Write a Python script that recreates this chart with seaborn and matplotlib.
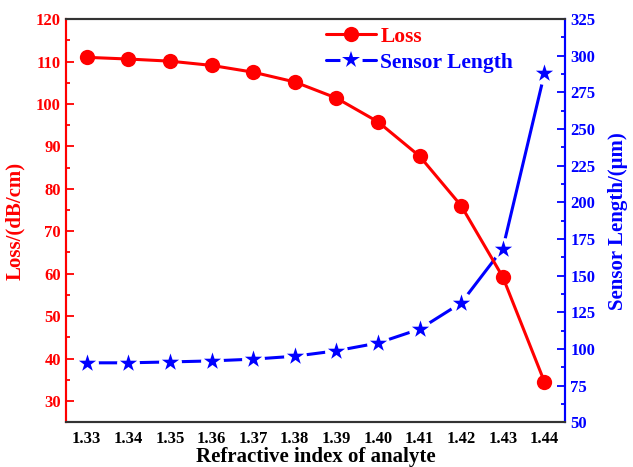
import numpy as np
import pandas as pd
import matplotlib
matplotlib.use("Agg")
import matplotlib.pyplot as plt
from matplotlib.ticker import MultipleLocator, FormatStrFormatter
from matplotlib.lines import Line2D
from matplotlib.legend_handler import HandlerTuple
import seaborn as sns

# Refractive index of the analyte and the two responses
refractive_index = [1.33, 1.34, 1.35, 1.36, 1.37, 1.38, 1.39, 1.40, 1.41, 1.42, 1.43, 1.44]
loss_db_cm = [111.0, 110.6, 110.1, 109.1, 107.5, 105.2, 101.4, 95.8, 87.7, 76.0, 59.2, 34.5]
sensor_length_um = [90.5, 90.5, 91.1, 91.8, 93.0, 95.0, 98.7, 104.0, 113.5, 131.4, 168.5, 288.0]

df = pd.DataFrame({
    "n": refractive_index,
    "loss": loss_db_cm,
    "length": sensor_length_um,
})

sns.set_theme(style="white")
plt.rcParams["font.family"] = ["Liberation Serif", "DejaVu Serif"]
plt.rcParams["font.weight"] = "bold"

RED = "#ff0000"
BLUE = "#0000ff"

fig = plt.figure(figsize=(6.33, 4.67), dpi=100)
ax = fig.add_axes([0.104, 0.096, 0.789, 0.863])
ax2 = ax.twinx()
# keep the red series above the blue one
ax.set_zorder(ax2.get_zorder() + 1)
ax.patch.set_visible(False)

# Loss: solid red line with filled circles
sns.lineplot(data=df, x="n", y="loss", ax=ax, color=RED, marker="o",
             markersize=11, markeredgewidth=0, linewidth=2.2, legend=False)

# Sensor length: blue line broken around each star symbol
sns.lineplot(data=df, x="n", y="length", ax=ax2, color=BLUE,
             linewidth=2.2, legend=False, zorder=2)
sns.scatterplot(data=df, x="n", y="length", ax=ax2, color="white",
                marker="o", s=270, linewidth=0, legend=False, zorder=3)
sns.scatterplot(data=df, x="n", y="length", ax=ax2, color=BLUE,
                marker="*", s=170, linewidth=0, legend=False, zorder=4)

ax.set_xlim(1.325, 1.445)
ax.set_ylim(25, 120)
ax2.set_ylim(50, 325)

ax.xaxis.set_major_locator(MultipleLocator(0.01))
ax.xaxis.set_minor_locator(MultipleLocator(0.005))
ax.xaxis.set_major_formatter(FormatStrFormatter("%.2f"))
ax.yaxis.set_major_locator(MultipleLocator(10))
ax.yaxis.set_minor_locator(MultipleLocator(5))
ax2.yaxis.set_major_locator(MultipleLocator(25))
ax2.yaxis.set_minor_locator(MultipleLocator(12.5))

# Spines
for a in (ax, ax2):
    for s in a.spines.values():
        s.set_linewidth(1.5)
    a.spines["top"].set_color("#333333")
    a.spines["bottom"].set_color("#333333")
    a.spines["left"].set_color(RED)
    a.spines["right"].set_color(BLUE)

ax.tick_params(axis="x", which="both", direction="in", top=False,
               colors="#333333", labelcolor="black", labelsize=12, width=1.3)
ax.tick_params(axis="x", which="major", length=6, pad=6)
ax.tick_params(axis="x", which="minor", length=3)
ax.tick_params(axis="y", which="both", direction="in", colors=RED,
               labelcolor=RED, labelsize=12, width=1.3)
ax.tick_params(axis="y", which="major", length=6)
ax.tick_params(axis="y", which="minor", length=3)
ax2.tick_params(axis="y", which="both", direction="in", colors=BLUE,
                labelcolor=BLUE, labelsize=12, width=1.3)
ax2.tick_params(axis="y", which="major", length=6)
ax2.tick_params(axis="y", which="minor", length=3)

for lab in ax.get_xticklabels() + ax.get_yticklabels() + ax2.get_yticklabels():
    lab.set_fontweight("bold")

ax.set_xlabel("Refractive index of analyte", fontsize=15, fontweight="bold",
              color="black", labelpad=0)
ax.set_ylabel("Loss/(dB/cm)", fontsize=15, fontweight="bold", color=RED,
              labelpad=8)
ax2.set_ylabel("Sensor Length/(μm)", fontsize=15, fontweight="bold",
               color=BLUE, labelpad=9)

loss_handle = Line2D([], [], color=RED, marker="o", markersize=11,
                     linewidth=2.2, markeredgewidth=0)
length_handle = (
    Line2D([], [], color=BLUE, linewidth=2.2),
    Line2D([], [], color="white", marker="o", markersize=16,
           markeredgewidth=0, linestyle="none"),
    Line2D([], [], color=BLUE, marker="*", markersize=13,
           markeredgewidth=0, linestyle="none"),
)
leg = ax.legend([loss_handle, length_handle], ["Loss", "Sensor Length"],
                loc="upper left", bbox_to_anchor=(0.483, 1.03), frameon=False,
                prop={"size": 15.5, "weight": "bold"}, handlelength=2.3,
                handletextpad=0.2, labelspacing=0.3,
                handler_map={tuple: HandlerTuple(ndivide=1, pad=0)})
for txt, c in zip(leg.get_texts(), [RED, BLUE]):
    txt.set_color(c)

fig.savefig("out.png", dpi=100)
